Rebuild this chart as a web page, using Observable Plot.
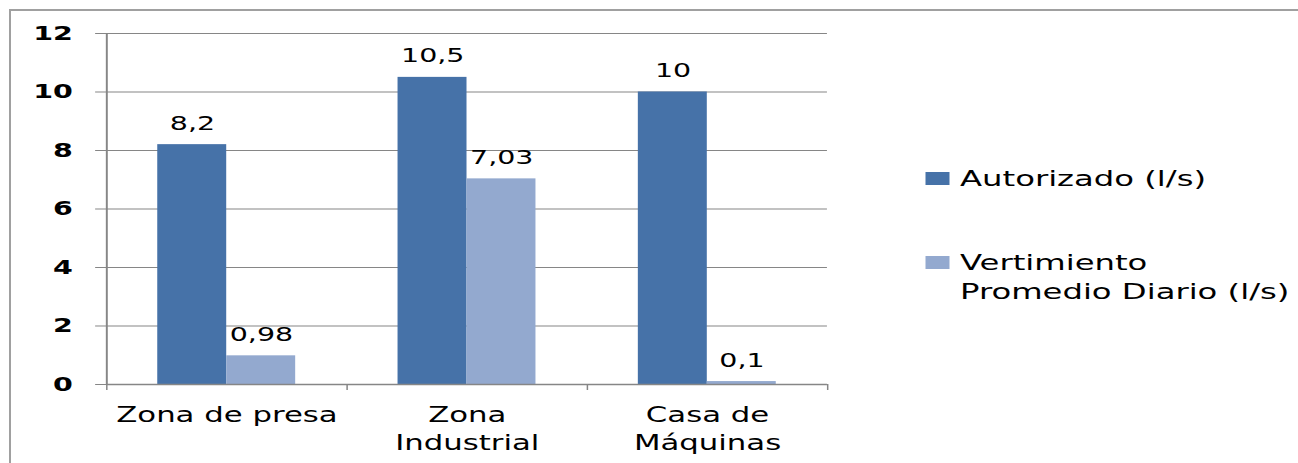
<!DOCTYPE html>
<html>
<head>
<meta charset="utf-8">
<script src="https://cdn.jsdelivr.net/npm/d3@7"></script>
<script src="https://cdn.jsdelivr.net/npm/@observablehq/plot@0.6"></script>
<style>
  html, body { margin: 0; padding: 0; background: #fff; }
  body { width: 1298px; height: 463px; position: relative; overflow: hidden; font-family: "DejaVu Sans", Verdana, sans-serif; }
  #frame { position: absolute; left: 9px; top: 9px; width: 1300px; height: 470px;
           border-top: 2px solid #a0a0a0; border-left: 2px solid #a0a0a0; }
  #chart { position: absolute; left: 0; top: 0; width: 865.33px; height: 463px;
           transform: scaleX(1.5); transform-origin: 0 0; }
  #legend { position: absolute; left: 0; top: 0; width: 865px; height: 463px; pointer-events: none; }
  .sw { position: absolute; width: 16px; height: 13px; }
  .lt { position: absolute; font-size: 21.5px; line-height: 29px; color: #000; white-space: nowrap; }
</style>
</head>
<body>
<div id="frame"></div>
<div id="chart"></div>
<script>
// ---- data ----
const categories = ["Zona de presa", "Zona\nIndustrial", "Casa de\nMáquinas"];
const seriesNames = ["Autorizado (l/s)", "Vertimiento Promedio Diario (l/s)"];
const autorizado = [8.2, 10.5, 10];
const vertimiento = [0.98, 7.03, 0.1];
const autorizadoLabels = ["8,2", "10,5", "10"];
const vertimientoLabels = ["0,98", "7,03", "0,1"];
const yTicks = [0, 2, 4, 6, 8, 10, 12];
const seriesColors = ["#4672a8", "#93a9cf"];

// ---- layout constants (not data) ----
const S = 1.5;                 // horizontal stretch of the original picture
const W = 1298 / S;
const groupPad = 0.213;        // outer padding inside each category slot (fraction)

const rows = [];
categories.forEach((c, i) => {
  rows.push({i, cat: c, s: 0, series: seriesNames[0], value: autorizado[i], label: autorizadoLabels[i]});
  rows.push({i, cat: c, s: 1, series: seriesNames[1], value: vertimiento[i], label: vertimientoLabels[i]});
});
const half = (1 - 2 * groupPad) / 2;
const x1 = d => d.i + groupPad + d.s * half;
const x2 = d => d.i + groupPad + (d.s + 1) * half;
const xm = d => d.i + groupPad + (d.s + 0.5) * half;

const grid = "#868686";

const chart = Plot.plot({
  width: W,
  height: 463,
  marginLeft: 70.7,
  marginRight: W - 551.3,
  marginTop: 33,
  marginBottom: 79,
  style: {fontFamily: "DejaVu Sans, Verdana, sans-serif", fontSize: "19px", color: "#000", background: "transparent", overflow: "visible"},
  x: {type: "linear", domain: [0, categories.length], axis: null},
  y: {domain: [0, 12], axis: null},
  color: {domain: seriesNames, range: seriesColors},
  marks: [
    Plot.ruleY(yTicks.filter(v => v > 0), {stroke: grid, strokeWidth: 1.2}),
    Plot.rectY(rows, {x1, x2, y1: 0, y2: "value", fill: "series"}),
    Plot.ruleX([0], {stroke: grid, strokeWidth: 1.3}),
    Plot.ruleY([0], {stroke: grid, strokeWidth: 1.3}),
    Plot.text(rows, {x: xm, y: "value", text: "label", dy: -21, fontSize: 19, fill: "#000"}),
    Plot.axisY({ticks: yTicks, label: null, tickSize: 7.3, tickPadding: 15.3, stroke: grid, fontSize: 19, fontWeight: "bold", fill: "#000", tickFormat: d => String(d)}),
    Plot.axisX({ticks: d3.range(categories.length + 1), label: null, tickSize: 6, stroke: grid, tickFormat: () => ""}),
    Plot.text(categories, {x: (d, i) => i + 0.5, y: () => 0, text: d => d, lineAnchor: "top", dy: 18.5, fontSize: 20.5, lineHeight: 1.33, fill: "#000"})
  ]
});
document.getElementById("chart").appendChild(chart);

// ---- legend (HTML, in unstretched coordinates, stretched with the chart) ----
const legend = document.createElement("div");
legend.id = "legend";
const legendItems = [
  {name: "Autorizado (l/s)", lines: ["Autorizado (l/s)"], color: seriesColors[0], swTop: 172, textTop: 163.5},
  {name: "Vertimiento Promedio Diario (l/s)", lines: ["Vertimiento", "Promedio Diario (l/s)"], color: seriesColors[1], swTop: 256, textTop: 247.5}
];
legendItems.forEach(it => {
  const sw = document.createElement("div");
  sw.className = "sw";
  sw.style.left = "617.3px";
  sw.style.top = it.swTop + "px";
  sw.style.background = it.color;
  legend.appendChild(sw);
  const t = document.createElement("div");
  t.className = "lt";
  t.style.left = "640px";
  t.style.top = it.textTop + "px";
  t.innerHTML = it.lines.join("<br>");
  legend.appendChild(t);
});
document.getElementById("chart").appendChild(legend);
</script>
</body>
</html>
